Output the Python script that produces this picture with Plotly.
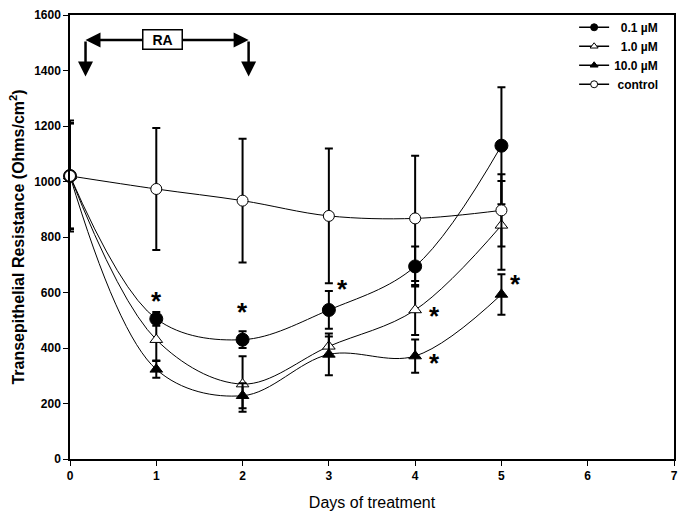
import plotly.graph_objects as go

days = [0, 1, 2, 3, 4, 5]
ra_01 = [1020, 505, 430, 537, 694, 1129]
ra_01_err = [190, 25, 30, 68, 72, 211]
ra_1 = [1020, 430, 270, 406, 537, 842]
ra_1_err = [190, 75, 100, 35, 90, 160]
ra_10 = [1020, 323, 228, 377, 371, 593]
ra_10_err = [190, 30, 45, 75, 60, 73]
control = [1020, 973, 931, 876, 867, 896]
control_err = [200, 220, 223, 243, 226, 130]

series_names = ["&nbsp;&nbsp;0.1 \u00b5M", "&nbsp;&nbsp;1.0 \u00b5M", "10.0 \u00b5M", "&nbsp;control"]

# significance markers (day, value)
star_x = [1.0, 2.0, 3.16, 4.23, 4.23, 5.16]
star_y = [585, 543, 627, 531, 360, 645]

x_ticks = [0, 1, 2, 3, 4, 5, 6, 7]
y_ticks = [0, 200, 400, 600, 800, 1000, 1200, 1400, 1600]

FONT = "Arial, Liberation Sans, sans-serif"

fig = go.Figure()

def add(y, err, name, symbol, fill, size):
    fig.add_trace(go.Scatter(
        x=days, y=y, name=name, mode="lines+markers", showlegend=False,
        legendgroup=name,
        line=dict(color="black", width=1, shape="spline", smoothing=1.0),
        marker=dict(symbol=symbol, size=size, color=fill,
                    line=dict(color="black", width=1)),
        error_y=dict(type="data", array=err, visible=True,
                     color="black", thickness=2, width=4),
        cliponaxis=False,
    ))
    # legend key (small symbol, as in the original key)
    fig.add_trace(go.Scatter(
        x=[None], y=[None], name=name, mode="lines+markers", legendgroup=name,
        line=dict(color="black", width=1.5),
        marker=dict(symbol=symbol, size=7, color=fill,
                    line=dict(color="black", width=1)),
    ))

add(ra_01, ra_01_err, series_names[0], "circle", "black", 13)
add(ra_1, ra_1_err, series_names[1], "triangle-up", "white", 11)
add(ra_10, ra_10_err, series_names[2], "triangle-up", "black", 11)
add(control, control_err, series_names[3], "circle", "white", 11)

for sx, sy in zip(star_x, star_y):
    fig.add_annotation(x=sx, y=sy, text="<b>*</b>", showarrow=False,
                       font=dict(family=FONT, size=26, color="black"), yshift=-4)

# RA treatment bracket
ra_left, ra_right, ra_top, ra_bottom = 0.18, 2.07, 1510, 1378
arrow_common = dict(showarrow=True, arrowhead=2, arrowsize=1.2, arrowwidth=2.5,
                    arrowcolor="black", axref="x", ayref="y", text="")
fig.add_annotation(x=ra_left, y=ra_bottom, ax=ra_left, ay=ra_top, **arrow_common)
fig.add_annotation(x=ra_right, y=ra_bottom, ax=ra_right, ay=ra_top, **arrow_common)
fig.add_annotation(x=ra_left, y=ra_top, ax=0.9, ay=ra_top, **arrow_common)
fig.add_annotation(x=ra_right, y=ra_top, ax=1.2, ay=ra_top, **arrow_common)
fig.add_annotation(x=1.07, y=ra_top, text="<b>RA</b>", showarrow=False,
                   font=dict(family=FONT, size=14, color="black"),
                   bgcolor="white", bordercolor="black", borderwidth=1.5,
                   borderpad=1, width=36)

fig.update_layout(
    width=686, height=517,
    margin=dict(l=70, r=8, t=10, b=58),
    paper_bgcolor="white", plot_bgcolor="white",
    font=dict(family=FONT, color="black"),
    showlegend=True,
    legend=dict(x=0.982, y=1.005, xanchor="right", yanchor="top",
                bgcolor="rgba(0,0,0,0)", borderwidth=0,
                font=dict(family=FONT, size=12, color="black", weight="bold"),
                tracegroupgap=0, itemwidth=30),
    xaxis=dict(range=[0, 7], tickvals=x_ticks, ticks="outside", ticklen=5,
               tickcolor="black", showline=True, linecolor="black", linewidth=1.5,
               mirror=True, showgrid=False, zeroline=False,
               ticklabeloverflow="allow",
               tickfont=dict(family=FONT, size=12, color="black", weight="bold"),
               title=dict(text="Days of treatment",
                          font=dict(family=FONT, size=16, color="black"), standoff=15)),
    yaxis=dict(range=[0, 1600], tickvals=y_ticks, ticks="outside", ticklen=5,
               tickcolor="black", showline=True, linecolor="black", linewidth=1.5,
               mirror=True, showgrid=False, zeroline=False,
               ticklabeloverflow="allow",
               tickfont=dict(family=FONT, size=12, color="black", weight="bold"),
               title=dict(text="<b>Transepithelial Resistance (Ohms/cm<sup>2</sup>)</b>",
                          font=dict(family=FONT, size=16, color="black"), standoff=6)),
)

fig.write_html("out.html", config={"displayModeBar": False},
               post_script="document.body.style.margin='0px';")
